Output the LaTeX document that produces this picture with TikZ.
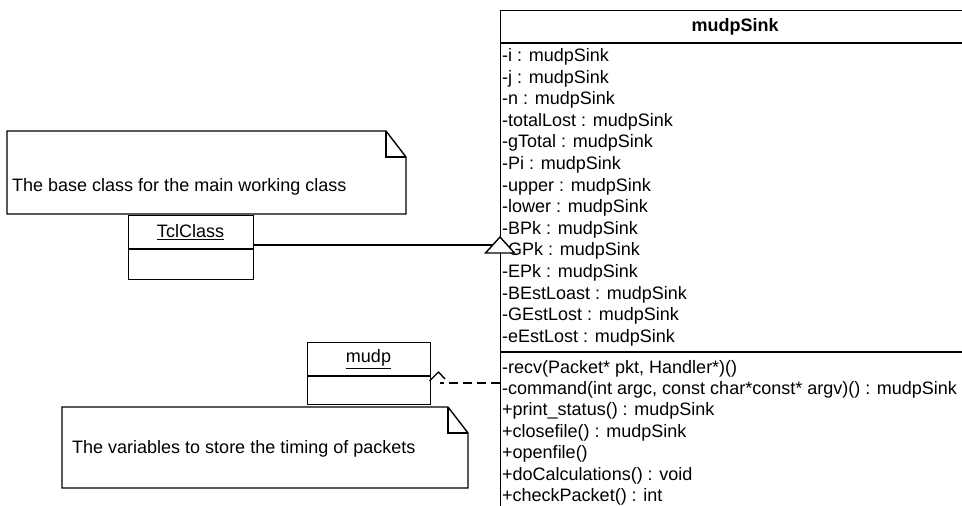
\documentclass[tikz,border=0pt]{standalone}
\usepackage{fontspec}
\setmainfont{Liberation Sans}
\begin{document}
\begin{tikzpicture}[x=1pt,y=-1pt,
  umlline/.style={line width=1.4pt, black},
  classbox/.style={draw, umlline, inner sep=0pt, anchor=north west},
  rowtext/.style={anchor=base west, inner sep=0pt, font=\fontsize{18}{21.6}\selectfont},
  titletext/.style={inner sep=0pt, font=\fontsize{18}{21.6}\selectfont},
  notepath/.style={umlline, fill=white},
  deparrow/.style={umlline, dash pattern=on 9pt off 5pt}
]
\useasboundingbox (0,0) rectangle (962,506);
\fill[white] (0,0) rectangle (962,506);
\clip (0,0) rectangle (962,506);

% ---- mudpSink class (cut off by the picture edge) ----
\node[classbox, minimum width=470pt, minimum height=520pt] (sink) at (500,10) {};
\draw[umlline] (sink.west |- 0,43) -- (sink.east |- 0,43);
\draw[umlline] (sink.west |- 0,352) -- (sink.east |- 0,352);
\node[titletext, font=\fontsize{18}{21.6}\selectfont\bfseries] (sinktitle) at (735,26.5) {mudpSink};

\foreach \t [count=\k from 0] in {
  {-i : mudpSink},{-j : mudpSink},{-n : mudpSink},{-totalLost : mudpSink},
  {-gTotal : mudpSink},{-Pi : mudpSink},{-upper : mudpSink},{-lower : mudpSink},
  {-BPk : mudpSink},{-GPk : mudpSink},{-EPk : mudpSink},{-BEstLoast : mudpSink},
  {-GEstLost : mudpSink},{-eEstLost : mudpSink}}
  \node[rowtext] (attr\k) at (502,61.5+21.6*\k) {\t};

\foreach \t [count=\k from 0] in {
  {-recv(Packet* pkt, Handler*)()},
  {-command(int argc, const char*const* argv)() : mudpSink},
  {+print\_status() : mudpSink},
  {+closefile() : mudpSink},
  {+openfile()},
  {+doCalculations() : void},
  {+checkPacket() : int}}
  \node[rowtext] (op\k) at (502,373+21.4*\k) {\t};

% ---- note 1 ----
\draw[notepath] (7,131) -- (386,131) -- (406,157) -- (406,214) -- (7,214) -- cycle;
\draw[umlline] (386,131) -- (386,157) -- (406,157);
\node[rowtext] (note1) at (12,191.5) {The base class for the main working class};

% ---- TclClass ----
\node[classbox, minimum width=125pt, minimum height=64pt] (tcl) at (128,215) {};
\draw[umlline] (tcl.west |- 0,249) -- (tcl.east |- 0,249);
\node[titletext] (tcltitle) at (190.5,232) {\underline{TclClass}};

% ---- generalization TclClass -> mudpSink ----
\coordinate (genIn) at (492.75,245);
\draw[umlline] (genIn -| tcl.east) -- (genIn);
\draw[umlline, fill=white] (500,237) -- (514.5,253) -- (485.5,253) -- cycle;

% ---- mudp ----
\node[classbox, minimum width=123pt, minimum height=62pt] (mudp) at (307,342) {};
\draw[umlline] (mudp.west |- 0,376) -- (mudp.east |- 0,376);
\node[titletext] (mudptitle) at (368.5,359) {\underline{mudp}};

% ---- dependency mudpSink -> mudp ----
\coordinate (depStart) at (sink.west |- 0,383);
\coordinate (depHead) at (440,383);
\draw[deparrow] (depStart) -- (depHead);
\draw[umlline, line join=round] (429.5,381) -- (438.5,372) -- (445,379);

% ---- note 2 ----
\draw[notepath] (62,407) -- (448,407) -- (468,433) -- (468,488) -- (62,488) -- cycle;
\draw[umlline] (448,407) -- (448,433) -- (468,433);
\node[rowtext] (note2) at (72,453.5) {The variables to store the timing of packets};
\end{tikzpicture}
\end{document}
